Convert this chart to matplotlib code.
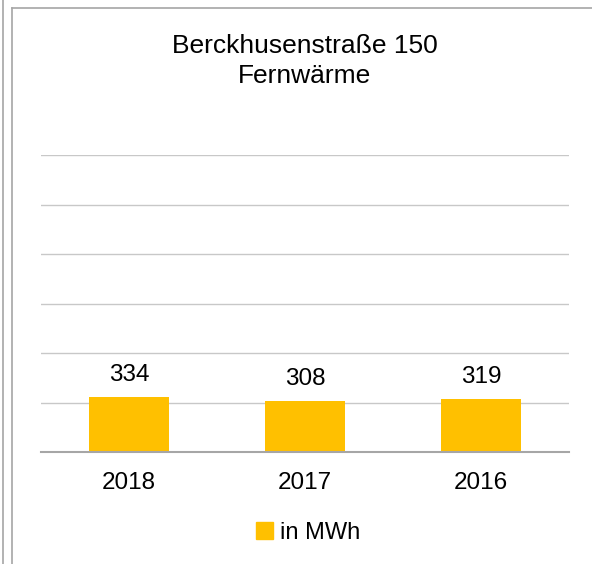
import matplotlib
matplotlib.use("Agg")
import matplotlib.pyplot as plt
from matplotlib.lines import Line2D
from matplotlib.patches import Patch

categories = ["2018", "2017", "2016"]
values = [334, 308, 319]
series_name = "in MWh"
title_lines = ["Berckhusenstraße 150", "Fernwärme"]
y_max = 1800
y_step = 300

plt.rcParams['font.family'] = ['Liberation Sans', 'DejaVu Sans']

W, H = 592, 564
fig = plt.figure(figsize=(W / 100, H / 100), dpi=100)
fig.patch.set_facecolor('white')

# outer frame lines
frame_col = '#A6A6A6'
fig.add_artist(Line2D([2.5 / W, 2.5 / W], [0, 1], transform=fig.transFigure, color=frame_col, lw=1.2))
fig.add_artist(Line2D([11.5 / W, 11.5 / W], [0, 1 - 7.5 / H], transform=fig.transFigure, color=frame_col, lw=1.2))
fig.add_artist(Line2D([11.5 / W, 1], [1 - 7.5 / H, 1 - 7.5 / H], transform=fig.transFigure, color=frame_col, lw=1.2))

ax_left, ax_right = 41 / W, 569 / W
ax_bottom, ax_top = 1 - 452 / H, 1 - 155 / H
ax = fig.add_axes([ax_left, ax_bottom, ax_right - ax_left, ax_top - ax_bottom])

x = list(range(len(categories)))
bars = ax.bar(x, values, width=0.4545, color='#FFC000', zorder=3, label=series_name)
ax.set_xlim(-0.5, len(categories) - 0.5)
ax.set_ylim(0, y_max)
ax.set_yticks(range(0, y_max + 1, y_step))
ax.yaxis.grid(True, color='#C8C8C8', lw=1.0, zorder=0)
ax.tick_params(axis='y', left=False, labelleft=False)
ax.tick_params(axis='x', bottom=False, labelsize=17.5, pad=11)
ax.set_xticks(x)
ax.set_xticklabels(categories)
for s in ['top', 'right', 'left']:
    ax.spines[s].set_visible(False)
ax.spines['bottom'].set_color('#A6A6A6')
ax.spines['bottom'].set_linewidth(1.5)
ax.spines['bottom'].set_zorder(4)

ax.bar_label(bars, labels=[str(v) for v in values], padding=8, fontsize=17.5, color='#000000')

fig.text(305 / W, 1 - 46 / H, title_lines[0], ha='center', va='center', fontsize=19)
fig.text(305 / W, 1 - 76 / H, title_lines[1], ha='center', va='center', fontsize=19)

fig.legend(handles=[Patch(color='#FFC000', label=series_name)], loc='center',
           bbox_to_anchor=(308 / W, 1 - 533 / H), frameon=False, fontsize=17,
           handlelength=0.7, handleheight=0.7, handletextpad=0.3)

fig.savefig('out.png', dpi=100, facecolor='white')
